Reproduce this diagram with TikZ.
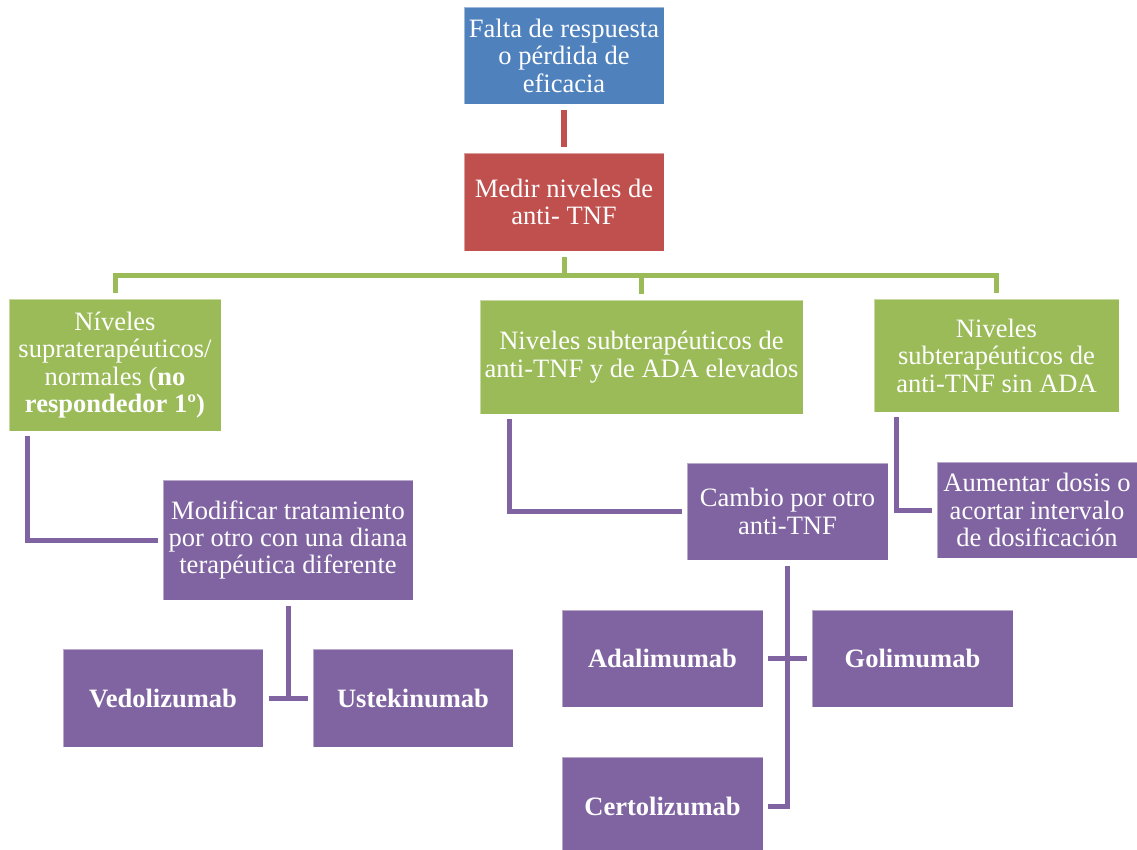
\documentclass[tikz,border=0pt]{standalone}
\usepackage{fontspec}
\setmainfont{Liberation Serif}
\definecolor{cblue}{HTML}{4F81BD}
\definecolor{cred}{HTML}{C0504D}
\definecolor{cgreen}{HTML}{9BBB59}
\definecolor{cpurple}{HTML}{8064A2}
\begin{document}
\begin{tikzpicture}[x=0.75pt,y=-0.75pt,
  box/.style={rectangle, inner sep=0pt, text=white, align=center,
    font=\fontsize{19.9pt}{20.6pt}\selectfont,
    draw=white, draw opacity=0.45, line width=0.6pt},
  bluebox/.style={box, fill=cblue},
  redbox/.style={box, fill=cred},
  greenbox/.style={box, fill=cgreen},
  purplebox/.style={box, fill=cpurple},
  boldbox/.style={purplebox, font=\fontsize{19.9pt}{20.6pt}\selectfont\bfseries},
  rline/.style={draw=cred, line width=4.3pt},
  gline/.style={draw=cgreen, line width=3.75pt},
  pline/.style={draw=cpurple, line width=3.75pt}]
\useasboundingbox (0,0) rectangle (1137,849);
\begin{scope}
\clip (0,0) rectangle (1137,849);
% boxes
\node[bluebox, minimum width=150pt, minimum height=72.75pt] (blue) at (564,55.5)
  {Falta de respuesta\\o pérdida de\\eficacia};
\node[redbox, minimum width=150pt, minimum height=73.5pt] (red) at (564,202)
  {Medir niveles de\\anti- TNF};
\node[greenbox, minimum width=159pt, minimum height=99pt] (g1) at (115,365)
  {Níveles\\supraterapéuticos/\\normales (\textbf{no}\\\textbf{respondedor 1º)}};
\node[greenbox, minimum width=242.25pt, minimum height=85.5pt] (g2) at (641.5,357)
  {Niveles subterapéuticos de\\anti-TNF y de ADA elevados};
\node[greenbox, minimum width=183.75pt, minimum height=84.75pt] (g3) at (996.5,355.5)
  {Niveles\\subterapéuticos de\\anti-TNF sin ADA};
\node[purplebox, minimum width=187.5pt, minimum height=90pt] (mod) at (288,540)
  {Modificar tratamiento\\por otro con una diana\\terapéutica diferente};
\node[boldbox, minimum width=150pt, minimum height=73.5pt] (ved) at (163,698) {Vedolizumab};
\node[boldbox, minimum width=150pt, minimum height=73.5pt] (ust) at (413,698) {Ustekinumab};
\node[purplebox, minimum width=150.75pt, minimum height=72.75pt] (cam) at (787.5,511.5)
  {Cambio por otro\\anti-TNF};
\node[purplebox, minimum width=150pt, minimum height=72pt] (aum) at (1037,510)
  {Aumentar dosis o\\acortar intervalo\\de dosificación};
\node[boldbox, minimum width=150.75pt, minimum height=72.75pt] (ada) at (662.5,658.5) {Adalimumab};
\node[boldbox, minimum width=150.75pt, minimum height=72.75pt] (gol) at (912.5,658.5) {Golimumab};
\node[boldbox, minimum width=150.75pt, minimum height=73.5pt] (cer) at (662.5,806) {Certolizumab};
% connectors
\draw[rline] ([yshift=-4.5pt]blue.south) -- ([yshift=4.5pt]red.north);
\coordinate (bus) at (564,275);
\draw[gline] ([yshift=-4.5pt]red.south) -- (bus);
\draw[gline] ([yshift=4.5pt]g1.north) -- (g1.north |- bus) -- (g3.north |- bus) -- ([yshift=4.5pt]g3.north);
\draw[gline] (g2.north |- bus) -- ([yshift=4.5pt]g2.north);
\draw[pline] ([xshift=14.25pt,yshift=-3.75pt]g1.south west) |- ([xshift=-3.75pt]mod.west);
\draw[pline] ([xshift=22.5pt,yshift=-3.75pt]g2.south west) |- ([xshift=-3.75pt]cam.west);
\draw[pline] ([xshift=17.25pt,yshift=-3.75pt]g3.south west) |- ([xshift=-3.75pt]aum.west);
\draw[pline] ([yshift=-4.5pt]mod.south) -- (mod.south |- ved.east);
\draw[pline] ([xshift=4pt]ved.east) -- ([xshift=-3.75pt]ust.west);
\draw[pline] ([yshift=-4.5pt]cam.south) -- (cam.south |- cer.east) -- ([xshift=3.75pt]cer.east);
\draw[pline] ([xshift=3.75pt]ada.east) -- ([xshift=-3.75pt]gol.west);
\end{scope}
\end{tikzpicture}
\end{document}
